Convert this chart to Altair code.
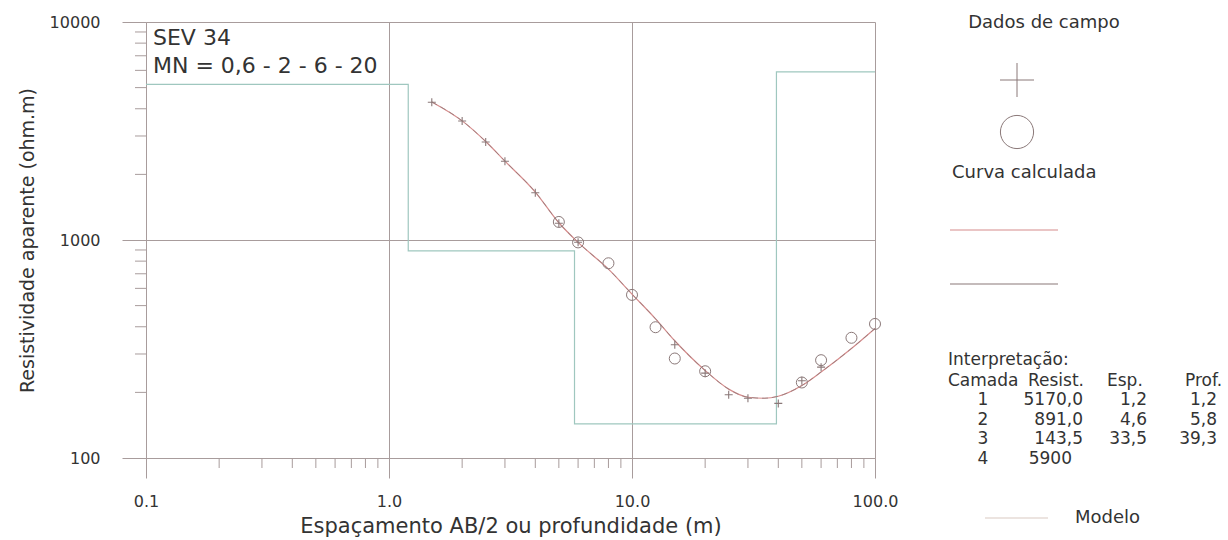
import altair as alt
import pandas as pd

FONT = "DejaVu Sans"
TEXT = "#333333"
GRID = "#a89c9c"
MODEL = "#9fc7bf"
RED = "#d68c8c"
DARK = "#8a7878"
CROSS = "M-1,0L1,0M0,-1L0,1"

# ---------------- data ----------------
cross_ab2 = [1.5, 2, 2.5, 3, 4, 5, 6, 15, 20, 25, 30, 40, 50, 60]
cross_rho = [4285, 3515, 2815, 2296, 1648, 1193, 976, 331, 245, 195, 188, 178, 226, 261]

circle_ab2 = [5, 6, 8, 10, 12.5, 15, 20, 50, 60, 80, 100]
circle_rho = [1210, 975, 782, 560, 398, 286, 250, 222, 281, 356, 412]

curve_ab2 = [1.5, 2, 2.5, 3, 4, 5, 6, 8, 10, 12.5, 15, 20, 25, 30, 35, 40, 50, 60, 80, 100]
curve_rho_1 = [4300, 3520, 2830, 2300, 1660, 1200, 975, 735, 565, 435, 345, 252, 207, 190, 188, 192, 215, 248, 318, 393]
curve_rho_2 = [4300, 3520, 2830, 2300, 1660, 1200, 975, 735, 565, 435, 345, 252, 207, 190, 188, 192, 215, 248, 318, 393]

layer_num = ["1", "2", "3", "4"]
layer_resist = [5170.0, 891.0, 143.5, 5900.0]
layer_prof = [1.2, 5.8, 39.3]
resist_labels = ["5170,0", "891,0", "143,5", "5900"]
esp_labels = ["1,2", "4,6", "33,5", ""]
prof_labels = ["1,2", "5,8", "39,3", ""]
header_labels = ["Camada", "Resist.", "Esp.", "Prof."]

x_major = [0.1, 1, 10, 100]
y_major = [100, 1000, 10000]
x_min, x_max = 0.1, 100

# ---------------- scales / axes ----------------
xs = alt.Scale(type="log", domain=[0.1, 100], nice=False)
ys = alt.Scale(type="log", domain=[100, 10000], nice=False)

x_axis = alt.Axis(values=x_major, format=".1f", grid=True, gridColor=GRID, gridWidth=1,
                  tickSize=20, tickColor=GRID, domainColor=GRID, labelFont=FONT,
                  labelFontSize=16, labelColor=TEXT, labelPadding=15, labelFlush=False,
                  labelOverlap=False, title="Espaçamento AB/2 ou profundidade (m)",
                  titleFont=FONT, titleFontSize=21, titleFontWeight="normal",
                  titleColor=TEXT, titleY=57, titleBaseline="top")
y_axis = alt.Axis(values=y_major, format="d", grid=True, gridColor=GRID, gridWidth=1,
                  tickSize=24, tickColor=GRID, domainColor=GRID, labelFont=FONT,
                  labelFontSize=16, labelColor=TEXT, labelPadding=22, labelFlush=False,
                  labelOverlap=False, title="Resistividade aparente (ohm.m)",
                  titleFont=FONT, titleFontSize=19, titleFontWeight="normal",
                  titleColor=TEXT, titleX=-119, titleY=218, titleBaseline="middle")


def X(field):
    return alt.X(field, scale=xs, axis=x_axis)


def Y(field):
    return alt.Y(field, scale=ys, axis=y_axis)


# model step line
step_x, step_y = [], []
bounds = [x_min] + layer_prof + [x_max]
for i, r in enumerate(layer_resist):
    step_x += [bounds[i], bounds[i + 1]]
    step_y += [r, r]
model_df = pd.DataFrame({"x": step_x, "y": step_y, "o": list(range(len(step_x)))})

model = alt.Chart(model_df).mark_line(color=MODEL, strokeWidth=1.2).encode(
    x=X("x:Q"), y=Y("y:Q"), order="o:Q")

curve_df = pd.DataFrame({"x": curve_ab2, "y": curve_rho_1, "y2": curve_rho_2})
curve1 = alt.Chart(curve_df).mark_line(color=RED, strokeWidth=1.2, interpolate="monotone").encode(
    x=X("x:Q"), y=Y("y:Q"))
curve2 = alt.Chart(curve_df).mark_line(color=DARK, strokeWidth=1, strokeDash=[6, 4],
                                       interpolate="monotone", opacity=0.7).encode(
    x=X("x:Q"), y=Y("y2:Q"))

crosses = alt.Chart(pd.DataFrame({"x": cross_ab2, "y": cross_rho})).mark_point(
    shape=CROSS, size=64, color=DARK, strokeWidth=1.1, opacity=1).encode(
    x=X("x:Q"), y=Y("y:Q"))
circles = alt.Chart(pd.DataFrame({"x": circle_ab2, "y": circle_rho})).mark_point(
    shape="circle", size=121, color=DARK, strokeWidth=1, opacity=1).encode(
    x=X("x:Q"), y=Y("y:Q"))

# minor ticks
x_minor = [m * d for d in (0.1, 1, 10) for m in range(2, 10)]
y_minor = [m * d for d in (100, 1000) for m in range(2, 10)]
xminor = alt.Chart(pd.DataFrame({"x": x_minor})).mark_rule(color=GRID).encode(
    x=X("x:Q"), y=alt.value(436), y2=alt.value(446))
yminor = alt.Chart(pd.DataFrame({"y": y_minor})).mark_rule(color=GRID).encode(
    y=Y("y:Q"), x=alt.value(-11), x2=alt.value(0))


def label(s, x, y, size=18, align="left"):
    return alt.Chart(pd.DataFrame({"t": [s]})).mark_text(
        align=align, baseline="middle", font=FONT, fontSize=size, color=TEXT
    ).encode(x=alt.value(x), y=alt.value(y), text="t:N")


def hline(x1, x2, y, color):
    return alt.Chart(pd.DataFrame({"t": [0]})).mark_rule(color=color, strokeWidth=1.2).encode(
        x=alt.value(x1), x2=alt.value(x2), y=alt.value(y))


def symbol(shape, x, y, size):
    return alt.Chart(pd.DataFrame({"t": [0]})).mark_point(
        shape=shape, size=size, color=DARK, strokeWidth=1, opacity=1).encode(
        x=alt.value(x), y=alt.value(y))


annot = [
    label("SEV 34", 7, 16, 22),
    label("MN = 0,6 - 2 - 6 - 20", 7, 44, 22),
    label("Dados de campo", 898, 1, 18, "center"),
    symbol(CROSS, 871, 58, 1156),
    symbol("circle", 871, 110, 1100),
    label("Curva calculada", 806, 151, 18),
    hline(804, 912, 208, RED),
    hline(804, 912, 262, DARK),
    label("Interpretação:", 802, 338, 17),
    hline(839, 902, 496, "#d9c9c2"),
    label("Modelo", 929, 496, 18),
]
header_x = [802, 882, 961, 1039]
for hx, h in zip(header_x, header_labels):
    annot.append(label(h, hx, 359, 17))
row_y = [378, 398, 417, 437]
for i in range(4):
    annot.append(label(layer_num[i], 837, row_y[i], 17, "center"))
    rx = 937 if "," in resist_labels[i] else 926
    annot.append(label(resist_labels[i], rx, row_y[i], 17, "right"))
    if esp_labels[i]:
        annot.append(label(esp_labels[i], 1001, row_y[i], 17, "right"))
    if prof_labels[i]:
        annot.append(label(prof_labels[i], 1071, row_y[i], 17, "right"))

chart = alt.layer(model, xminor, yminor, curve1, curve2, circles, crosses, *annot).properties(
    width=729, height=436,
    padding={"left": 146, "top": 22, "right": 353, "bottom": 82},
    autosize=alt.AutoSizeParams(type="none"),
).configure_view(strokeWidth=0)

chart.save("out.html", embed_options={"renderer": "svg", "actions": False})
